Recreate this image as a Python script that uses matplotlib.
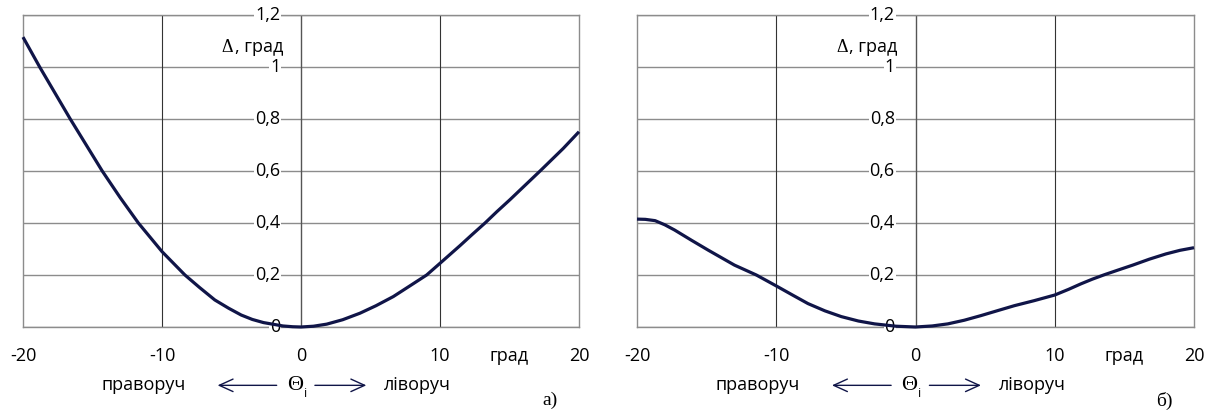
import matplotlib
matplotlib.use("Agg")
import matplotlib.pyplot as plt

plt.rcParams['font.family'] = ['Open Sans', 'DejaVu Sans']

# theta, deg -> delta, deg
theta_a = [-20, -18.8, -16.6, -14.3, -13.0, -11.7, -10, -8.35, -7.3, -6.2, -5.2, -4.3,
           -3.5, -2.7, -1.3, -0.6, 0, 0.9, 1.85, 3.0, 4.24, 5.4, 6.64, 7.8, 9.04, 10,
           11.44, 12.3, 13.24, 14.1, 15.04, 16.1, 17.2, 18.87, 20]
delta_a = [1.115, 1.0, 0.8, 0.6, 0.497, 0.4, 0.29, 0.2, 0.152, 0.104, 0.072, 0.046,
           0.029, 0.017, 0.004, 0.001, 0.0, 0.003, 0.011, 0.028, 0.053, 0.082, 0.117, 0.157, 0.2, 0.245,
           0.313, 0.355, 0.4, 0.444, 0.49, 0.544, 0.6, 0.687, 0.751]

theta_b = [-20, -19.4, -18.7, -18.0, -17.3, -16.1, -14.9, -13.0, -11.43, -10, -8.8, -7.72,
           -6.5, -5.33, -4.1, -2.94, -1.4, 0, 1.2, 2.32, 3.5, 4.71, 5.9, 7.1, 8.5, 10,
           11.0, 11.88, 12.7, 13.56, 14.6, 15.6, 16.8, 17.98, 19.0, 20]
delta_b = [0.415, 0.414, 0.409, 0.393, 0.373, 0.334, 0.296, 0.238, 0.2, 0.158, 0.122, 0.09,
           0.062, 0.040, 0.023, 0.012, 0.003, 0.0, 0.004, 0.012, 0.026, 0.044, 0.063, 0.082, 0.101, 0.123,
           0.145, 0.166, 0.184, 0.201, 0.22, 0.238, 0.261, 0.281, 0.295, 0.305]

x_ticks = [-20, -10, 0, 10, 20]
y_ticks = [0, 0.2, 0.4, 0.6, 0.8, 1.0, 1.2]
y_labels = ["0", "0,2", "0,4", "0,6", "0,8", "1", "1,2"]

LINE = "#101548"
FS = 13

fig = plt.figure(figsize=(12.11, 4.12), dpi=100)
ax_a = fig.add_axes([23 / 1211, 85 / 412, 556 / 1211, 312 / 412])
ax_b = fig.add_axes([637 / 1211, 85 / 412, 557 / 1211, 312 / 412])


def draw_panel(ax, x, y, tag):
    ax.set_xlim(-20, 20)
    ax.set_ylim(0, 1.2)
    for yt in y_ticks:
        ax.axhline(yt, color="#8c8c8c", lw=1.0, zorder=1)
    for xt in [-10, 10]:
        ax.axvline(xt, color="#333333", lw=0.8, zorder=1)
    ax.axvline(0, color="#555555", lw=1.0, zorder=1)
    ax.set_xticks([])
    ax.set_yticks([])
    for s in ax.spines.values():
        s.set_color("#8c8c8c")
        s.set_linewidth(1.0)

    for yt, lab in zip(y_ticks, y_labels):
        ax.annotate(lab, xy=(0, yt), xytext=(-15, 0), textcoords="offset points",
                    ha="right", va="center", fontsize=FS, zorder=4,
                    bbox=dict(boxstyle="square,pad=0.05", fc="white", ec="none"),
                    annotation_clip=False)

    ax.plot(x, y, color=LINE, lw=2.3, zorder=5, clip_on=False,
            solid_joinstyle="round", solid_capstyle="butt")

    # axis label: serif delta + sans text
    lab = ax.annotate(", град", xy=(0, 1.075), xytext=(-13, 0), textcoords="offset points",
                      ha="right", va="center", fontsize=FS)
    ax.annotate("Δ", xy=(0, 0.5), xycoords=lab, xytext=(-1, 0), textcoords="offset points",
                ha="right", va="center", fontsize=FS, family="Liberation Serif")

    for xt in x_ticks:
        ax.annotate(str(xt), xy=(xt, 0), xytext=(0, -21), textcoords="offset points",
                    ha="center", va="center", fontsize=FS, annotation_clip=False)
    ax.annotate("град", xy=(15.0, 0), xytext=(0, -21), textcoords="offset points",
                ha="center", va="center", fontsize=FS, annotation_clip=False)

    yb = -42
    ax.annotate("праворуч", xy=(-11.35, 0), xytext=(0, yb), textcoords="offset points",
                ha="center", va="center", fontsize=FS, annotation_clip=False)
    ax.annotate("ліворуч", xy=(8.4, 0), xytext=(0, yb), textcoords="offset points",
                ha="center", va="center", fontsize=FS, annotation_clip=False)
    ax.annotate("Θ", xy=(-0.45, 0), xytext=(0, yb), textcoords="offset points",
                ha="center", va="center", fontsize=16, family="Liberation Serif",
                annotation_clip=False)
    ax.annotate("i", xy=(0.3, 0), xytext=(0, yb - 6), textcoords="offset points",
                ha="center", va="center", fontsize=9, annotation_clip=False)
    trans = ax.get_xaxis_transform()
    yb_ax = (yb * 100 / 72) / 312
    ax.annotate("", xy=(-6.0, yb_ax), xytext=(-1.75, yb_ax), xycoords=trans, textcoords=trans,
                arrowprops=dict(arrowstyle="->,head_length=0.55,head_width=0.25",
                                color=LINE, lw=1.0, mutation_scale=18, shrinkA=0, shrinkB=0),
                annotation_clip=False)
    ax.annotate("", xy=(4.7, yb_ax), xytext=(1.0, yb_ax), xycoords=trans, textcoords=trans,
                arrowprops=dict(arrowstyle="->,head_length=0.55,head_width=0.25",
                                color=LINE, lw=1.0, mutation_scale=18, shrinkA=0, shrinkB=0),
                annotation_clip=False)
    ax.annotate(tag, xy=(17.9, 0), xytext=(0, -53), textcoords="offset points",
                ha="center", va="center", fontsize=14, family="Liberation Serif",
                annotation_clip=False)


draw_panel(ax_a, theta_a, delta_a, "а)")
draw_panel(ax_b, theta_b, delta_b, "б)")

fig.savefig("out.png", dpi=100)
